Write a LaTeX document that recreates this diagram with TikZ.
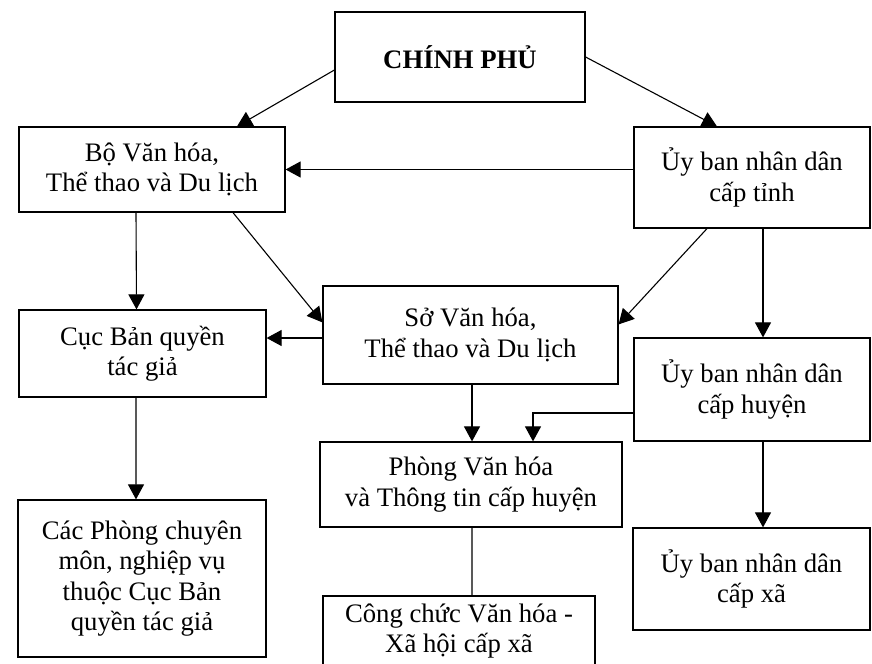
\documentclass[tikz,border=0pt]{standalone}
\usepackage{fontspec}
\setmainfont{Liberation Serif}
\usetikzlibrary{arrows.meta,positioning,calc}

\tikzset{
  box/.style={draw, line width=1.2bp, align=center, inner sep=0pt, font=\fontsize{26.8}{30.5}\selectfont},
  arr/.style={line width=1.1bp, -{Triangle[length=15bp,width=16bp]}},
  ln/.style={line width=1.1bp}
}

\begin{document}
\begin{tikzpicture}[x=1bp, y=-1bp]
\useasboundingbox (0,0) rectangle (872,664);
% boxes
\node[box, minimum width=250bp, minimum height=90bp, font=\fontsize{26.8}{30}\selectfont\bfseries] (cp) at (460,57) {CHÍNH PHỦ};
\node[box, minimum width=266bp, minimum height=85bp] (bo) at (152,169.5) {Bộ Văn hóa,\\Thể thao và Du lịch};
\node[box, minimum width=236bp, minimum height=101bp] (tinh) at (752,177.5) {Ủy ban nhân dân\\cấp tỉnh};
\node[box, minimum width=247bp, minimum height=87bp] (cuc) at (142.5,353.5) {Cục Bản quyền\\tác giả};
\node[box, minimum width=295bp, minimum height=98bp] (so) at (470.5,335) {Sở Văn hóa,\\Thể thao và Du lịch};
\node[box, minimum width=236bp, minimum height=103bp] (huyen) at (752,389.5) {Ủy ban nhân dân\\cấp huyện};
\node[box, minimum width=302bp, minimum height=85bp] (phong) at (471,484.5) {Phòng Văn hóa\\và Thông tin cấp huyện};
\node[box, minimum width=248bp, minimum height=157bp] (cacphong) at (142,578.5) {Các Phòng chuyên\\môn, nghiệp vụ\\thuộc Cục Bản\\quyền tác giả};
\node[box, minimum width=237bp, minimum height=102bp] (xa) at (751.5,579) {Ủy ban nhân dân\\cấp xã};
\node[box, minimum width=272bp, minimum height=76bp] (congchuc) at (459,634) {Công chức Văn hóa -\\Xã hội cấp xã\rule[-11bp]{0pt}{11bp}};
% connectors
\draw[arr] ([yshift=-13bp]cp.west) -- ([xshift=85bp]bo.north);
\draw[arr] (cp.east) -- ([xshift=-35bp]tinh.north);
\draw[arr] (tinh.west |- bo.east) -- (bo.east);
\draw[arr] ([xshift=-16bp]bo.south) -- ([xshift=-6bp]cuc.north);
\draw[arr] ([xshift=81bp]bo.south) -- ([yshift=-37bp]so.north west);
\draw[arr] ([xshift=-45bp]tinh.south) -- ([yshift=-39bp]so.north east);
\draw[arr] ([xshift=11bp]tinh.south) -- ([xshift=11bp]huyen.north);
\path ([yshift=-3bp]so.west) coordinate (sow);
\draw[arr] (sow) -- (sow -| cuc.east);
\draw[arr] ([xshift=1.5bp]so.south) -- ([xshift=1bp]phong.north);
\draw[arr] ([yshift=-23.5bp]huyen.west) -| ([xshift=62bp]phong.north);
\draw[arr] ([xshift=-6.5bp]cuc.south) -- ([xshift=-6bp]cacphong.north);
\draw[arr] ([xshift=11bp]huyen.south) -- ([xshift=11.5bp]xa.north);
\draw[ln] ([xshift=1bp]phong.south) -- ([xshift=13bp]congchuc.north);
\end{tikzpicture}
\end{document}
